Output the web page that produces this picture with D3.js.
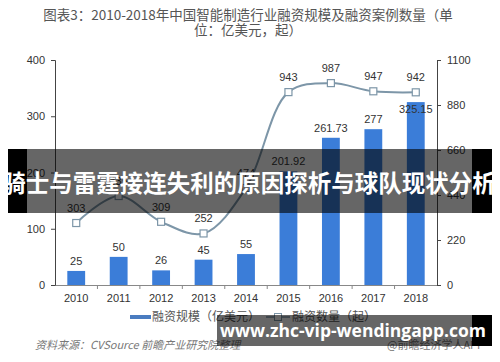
<!DOCTYPE html>
<html>
<head>
<meta charset="utf-8">
<script src="https://cdn.jsdelivr.net/npm/d3@7"></script>
<style>
  body { margin: 0; background: #fff; }
  svg { display: block; font-family: "Liberation Sans", "Noto Sans CJK SC", sans-serif; }
</style>
</head>
<body>
<div id="chart"></div>
<script>
var years = ['2010', '2011', '2012', '2013', '2014', '2015', '2016', '2017', '2018'];
var amounts = [25, 50, 26, 45, 55, 201.92, 261.73, 277, 325.15];
var amountLabels = ['25', '50', '26', '45', '55', '201.92', '261.73', '277', '325.15'];
var counts = [303, 435, 309, 252, 474, 943, 987, 947, 942];
var leftTicks = [0, 100, 200, 300, 400];
var rightTicks = [0, 220, 440, 660, 880, 1100];

var width = 500, height = 362;
var margin = {top: 60, right: 63, bottom: 77, left: 55};

var svg = d3.select('#chart').append('svg')
  .attr('width', width)
  .attr('height', height);

var x = d3.scaleBand()
  .domain(years)
  .range([margin.left, width - margin.right])
  .paddingInner(0.58)
  .paddingOuter(0.29);

var yL = d3.scaleLinear().domain([0, 400]).range([height - margin.bottom, margin.top]);
var yR = d3.scaleLinear().domain([0, 1100]).range([height - margin.bottom, margin.top]);

// title
var title = svg.append('g').attr('fill', '#555').attr('font-size', 13.5)
  .attr('font-family', '"Noto Sans CJK SC", sans-serif').attr('text-anchor', 'middle');
title.append('text').attr('x', 248).attr('y', 20).text('图表3：2010-2018年中国智能制造行业融资规模及融资案例数量（单');
title.append('text').attr('x', 248).attr('y', 35).text('位：亿美元，起）');

// bars
svg.selectAll('rect.bar')
  .data(amounts)
  .enter().append('rect')
  .attr('class', 'bar')
  .attr('x', function(d, i){ return x(years[i]); })
  .attr('width', x.bandwidth())
  .attr('y', function(d){ return yL(d); })
  .attr('height', function(d){ return yL(0) - yL(d); })
  .attr('fill', '#3b7dd8');

svg.selectAll('text.barlabel')
  .data(amounts)
  .enter().append('text')
  .attr('class', 'barlabel')
  .attr('x', function(d, i){ return x(years[i]) + x.bandwidth() / 2; })
  .attr('y', function(d){ return Math.max(yL(d) - 6, 113); })
  .attr('text-anchor', 'middle')
  .attr('font-size', 11)
  .attr('fill', '#333')
  .text(function(d, i){ return amountLabels[i]; });

// axes
var xAxis = d3.axisBottom(x).tickSize(0).tickPadding(9);
var gx = svg.append('g')
  .attr('transform', 'translate(0,' + yL(0) + ')')
  .call(xAxis);
gx.select('.domain').attr('stroke', '#888');
gx.selectAll('text').attr('font-size', 11).attr('fill', '#333');
gx.selectAll('line.sep')
  .data(years.slice(1))
  .enter().append('line')
  .attr('class', 'sep')
  .attr('x1', function(d){ return x(d) - x.step() * x.paddingInner() / 2; })
  .attr('x2', function(d){ return x(d) - x.step() * x.paddingInner() / 2; })
  .attr('y1', 0).attr('y2', 4)
  .attr('stroke', '#888');

var gl = svg.append('g')
  .attr('transform', 'translate(' + margin.left + ',0)')
  .call(d3.axisLeft(yL).tickValues(leftTicks).tickFormat(d3.format('d'))
    .tickSizeOuter(0).tickSize(4).tickPadding(6));
gl.select('.domain').attr('stroke', '#444');
gl.selectAll('line').attr('stroke', '#444');
gl.selectAll('text').attr('font-size', 11).attr('fill', '#333');

var gr = svg.append('g')
  .attr('transform', 'translate(' + (width - margin.right) + ',0)')
  .call(d3.axisRight(yR).tickValues(rightTicks).tickFormat(d3.format('d'))
    .tickSizeOuter(0).tickSize(4).tickPadding(6));
gr.select('.domain').attr('stroke', '#444');
gr.selectAll('line').attr('stroke', '#444');
gr.selectAll('text').attr('font-size', 11).attr('fill', '#333');

// line
var line = d3.line()
  .x(function(d, i){ return x(years[i]) + x.bandwidth() / 2; })
  .y(function(d){ return yR(d); })
  .curve(d3.curveCatmullRom.alpha(0.5));

svg.append('path')
  .datum(counts)
  .attr('d', line)
  .attr('fill', 'none')
  .attr('stroke', '#7d96a8')
  .attr('stroke-width', 2);

svg.selectAll('rect.marker')
  .data(counts)
  .enter().append('rect')
  .attr('class', 'marker')
  .attr('x', function(d, i){ return x(years[i]) + x.bandwidth() / 2 - 3.5; })
  .attr('y', function(d){ return yR(d) - 3.5; })
  .attr('width', 7).attr('height', 7)
  .attr('fill', '#fff')
  .attr('stroke', '#7d96a8')
  .attr('stroke-width', 1.2);

svg.selectAll('text.linelabel')
  .data(counts)
  .enter().append('text')
  .attr('class', 'linelabel')
  .attr('x', function(d, i){ return x(years[i]) + x.bandwidth() / 2; })
  .attr('y', function(d){ return yR(d) - 11; })
  .attr('text-anchor', 'middle')
  .attr('font-size', 11)
  .attr('fill', '#333')
  .text(function(d){ return d; });

// legend
var lg = svg.append('g').attr('font-size', 12).attr('fill', '#555')
  .attr('font-family', '"Noto Sans CJK SC", sans-serif');
lg.append('rect').attr('x', 130).attr('y', 315).attr('width', 21).attr('height', 4).attr('fill', '#4a7cc0');
lg.append('text').attr('x', 152).attr('y', 321).text('融资规模（亿美元）');
lg.append('line').attr('x1', 266).attr('x2', 290).attr('y1', 317).attr('y2', 317)
  .attr('stroke', '#7d96a8').attr('stroke-width', 1.5);
lg.append('rect').attr('x', 274.5).attr('y', 313.5).attr('width', 7).attr('height', 7)
  .attr('fill', '#fff').attr('stroke', '#7d96a8');
lg.append('text').attr('x', 292).attr('y', 321).text('融资数量（起）');

// source
svg.append('text').attr('x', 35).attr('y', 349)
  .attr('font-size', 11).attr('font-style', 'italic').attr('fill', '#777')
  .attr('font-family', '"Noto Sans CJK SC", sans-serif')
  .text('资料来源：CVSource 前瞻产业研究院整理');
svg.append('text').attr('x', 387).attr('y', 349)
  .attr('font-size', 11).attr('fill', '#777')
  .attr('font-family', '"Noto Sans CJK SC", sans-serif')
  .text('@前瞻经济学人APP');

// overlay banner
svg.append('rect').attr('x', 8).attr('y', 149).attr('width', 484).attr('height', 64)
  .attr('fill', 'rgba(0,0,0,0.6)');
svg.append('rect').attr('x', 8).attr('y', 149).attr('width', 19).attr('height', 64).attr('fill', '#000');
svg.append('rect').attr('x', 472).attr('y', 149).attr('width', 20).attr('height', 64).attr('fill', '#000');
svg.append('text').attr('x', 249).attr('y', 192)
  .attr('text-anchor', 'middle')
  .attr('font-family', '"Noto Sans CJK SC", sans-serif')
  .attr('font-weight', 'bold').attr('font-size', 23.5).attr('fill', '#fff')
  .text('骑士与雷霆接连失利的原因探析与球队现状分析');

// bottom banner
svg.append('rect').attr('x', 217).attr('y', 315).attr('width', 275).attr('height', 31)
  .attr('fill', 'rgba(0,0,0,0.6)');
svg.append('rect').attr('x', 472).attr('y', 315).attr('width', 20).attr('height', 31).attr('fill', '#000');
svg.append('text').attr('x', 353).attr('y', 337)
  .attr('text-anchor', 'middle')
  .attr('font-family', '"Open Sans", sans-serif')
  .attr('font-weight', 'bold').attr('font-size', 17.5).attr('fill', '#fff')
  .text('www.zhc-vip-wendingapp.com');
</script>
</body>
</html>
